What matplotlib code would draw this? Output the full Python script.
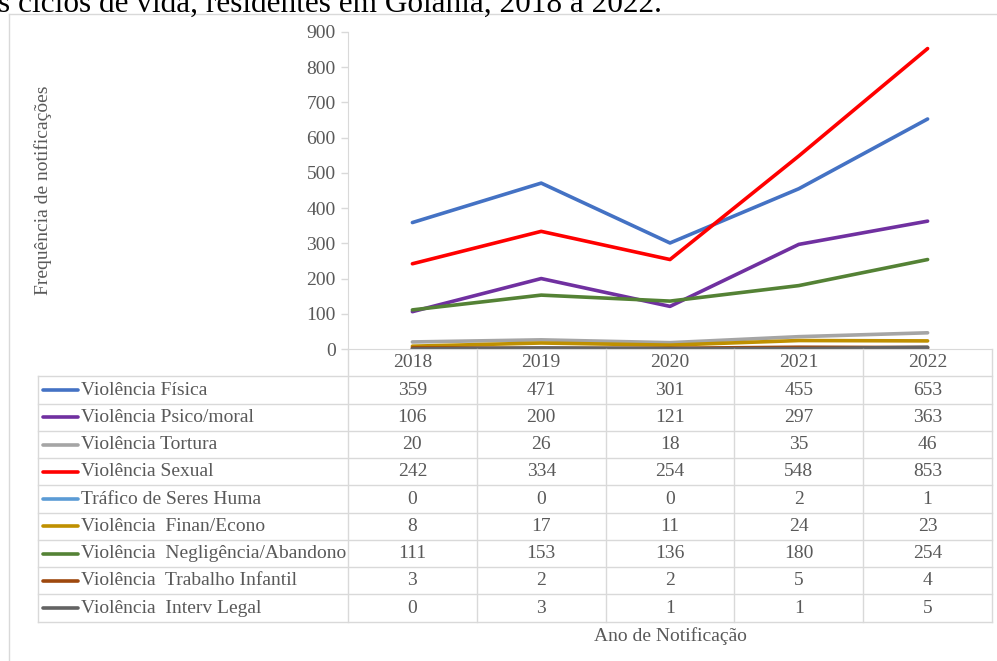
import matplotlib
matplotlib.use('Agg')
import matplotlib.pyplot as plt
from matplotlib.lines import Line2D
from matplotlib.transforms import blended_transform_factory

# Data
years = ['2018', '2019', '2020', '2021', '2022']
series_names = ['Violência Física', 'Violência Psico/moral', 'Violência Tortura',
                'Violência Sexual', 'Tráfico de Seres Huma', 'Violência  Finan/Econo',
                'Violência  Negligência/Abandono', 'Violência  Trabalho Infantil',
                'Violência  Interv Legal']
fisica = [359, 471, 301, 455, 653]
psico = [106, 200, 121, 297, 363]
tortura = [20, 26, 18, 35, 46]
sexual = [242, 334, 254, 548, 853]
trafico = [0, 0, 0, 2, 1]
finan = [8, 17, 11, 24, 23]
negligencia = [111, 153, 136, 180, 254]
trabalho = [3, 2, 2, 5, 4]
interv = [0, 3, 1, 1, 5]
series_values = [fisica, psico, tortura, sexual, trafico, finan, negligencia, trabalho, interv]
colors = ['#4472C4', '#7030A0', '#A5A5A5', '#FF0000', '#5B9BD5',
          '#BF9000', '#548235', '#9E480E', '#636363']

W, H = 997, 661
plt.rcParams['font.family'] = ['Liberation Serif', 'DejaVu Serif']
text_col = '#595959'
grid_col = '#D9D9D9'
fs = 14

fig = plt.figure(figsize=(W / 100, H / 100), dpi=100)


def fx(x):
    return x / W


def fy(y):
    return 1 - y / H


# Axes placement (pixels)
ax_l, ax_r, ax_t, ax_b = 348, 992, 32, 349
ax = fig.add_axes([fx(ax_l), fy(ax_b), (ax_r - ax_l) / W, (ax_b - ax_t) / H])

xs = list(range(len(years)))
for vals, col in zip(series_values, colors):
    ax.plot(xs, vals, color=col, lw=2.6, solid_capstyle='round', solid_joinstyle='round')

ax.set_xlim(-0.5, len(years) - 0.5)
ax.set_ylim(0, 900)
ax.set_yticks(range(0, 901, 100))
ax.set_xticks([])
for s in ['top', 'right']:
    ax.spines[s].set_visible(False)
ax.spines['left'].set_color(grid_col)
ax.spines['bottom'].set_color(grid_col)
ax.tick_params(axis='y', colors=grid_col, labelcolor=text_col, labelsize=fs, length=5, width=1, pad=4)
ax.patch.set_alpha(0)

# Outer chart border
fig.add_artist(Line2D([fx(9), fx(9)], [fy(14), fy(H + 5)], transform=fig.transFigure, color=grid_col, lw=1))
fig.add_artist(Line2D([fx(9), fx(W + 5)], [fy(14), fy(14)], transform=fig.transFigure, color=grid_col, lw=1))

# Cropped caption at top
fig.text(fx(-2), fy(12), 's ciclos de vida, residentes em Goiânia, 2018 a 2022.',
         fontsize=22.5, color='black', va='baseline', ha='left')

# Y label
fig.text(fx(43), fy(190), 'Frequência de notificações', rotation=90, fontsize=fs,
         color=text_col, ha='center', va='center')

# Data table
tr = blended_transform_factory(ax.transData, fig.transFigure)
tbl_left = 38
head_top = 349
row0 = 376.4
row_h = 27.25
nrows = len(series_names)
tbl_bottom = row0 + row_h * nrows

# horizontal lines
for i in range(nrows + 1):
    y = row0 + row_h * i
    fig.add_artist(Line2D([fx(tbl_left), fx(ax_r)], [fy(y), fy(y)], transform=fig.transFigure,
                          color=grid_col, lw=1))
# vertical lines
fig.add_artist(Line2D([fx(tbl_left), fx(tbl_left)], [fy(row0), fy(tbl_bottom)],
                      transform=fig.transFigure, color=grid_col, lw=1))
for k in range(len(years) + 1):
    fig.add_artist(Line2D([k - 0.5, k - 0.5], [fy(head_top), fy(tbl_bottom)], transform=tr,
                          color=grid_col, lw=1))

# header
for k, yr in enumerate(years):
    fig.text(k, fy((head_top + row0) / 2), yr, transform=tr, ha='center', va='center',
             fontsize=fs, color=text_col)

# rows
for i, (name, vals, col) in enumerate(zip(series_names, series_values, colors)):
    yc = fy(row0 + row_h * (i + 0.5))
    fig.add_artist(Line2D([fx(43), fx(78)], [yc, yc], transform=fig.transFigure, color=col,
                          lw=2.6, solid_capstyle='round'))
    fig.text(fx(81), yc, name, ha='left', va='center', fontsize=fs, color=text_col)
    for k, v in enumerate(vals):
        fig.text(k, yc, str(v), transform=tr, ha='center', va='center', fontsize=fs,
                 color=text_col)

# X label
fig.text(2, fy(636), 'Ano de Notificação', transform=tr, ha='center', va='center',
         fontsize=fs, color=text_col)

plt.savefig('out.png', dpi=100)
plt.close()
